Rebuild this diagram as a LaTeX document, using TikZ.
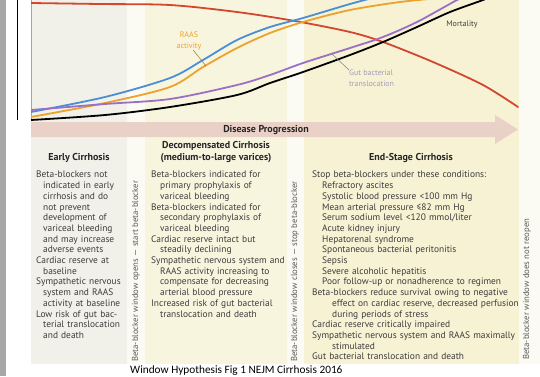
\documentclass[tikz,border=0pt]{standalone}
\usepackage{fontspec}
\setmainfont{PT Sans}
\newfontfamily\capfont{Carlito}

\definecolor{stripgray}{HTML}{A7A7A7}
\definecolor{earlybg}{HTML}{F1F0E9}
\definecolor{gapbg}{HTML}{FCFBF3}
\definecolor{decompbg}{HTML}{F8F5DF}
\definecolor{endbg}{HTML}{F7F2D4}
\definecolor{progressbg}{HTML}{EAD1C7}
\definecolor{cardiacred}{HTML}{D2472E}
\definecolor{sympblue}{HTML}{4A8ED6}
\definecolor{raasorange}{HTML}{EBA22F}
\definecolor{gutpurple}{HTML}{9A70C4}
\definecolor{gutlabel}{HTML}{A69CB8}
\definecolor{bodygray}{HTML}{3C3C3C}
\definecolor{notegray}{HTML}{5A5A5A}

% one list entry, later lines hang under the first
\newcommand{\notepara}[2][7pt]{\par\noindent\hangindent=#1\hangafter=1 {\let\\\newline #2}\par}
% one sub entry, indented as a whole
\newcommand{\subpara}[1]{\par\noindent\hspace*{10pt}#1\par}

\tikzset{
	colhead/.style={font=\bfseries\fontsize{10}{11.5}\selectfont, text=black!85, align=center, inner sep=0pt},
	coltext/.style={font=\fontsize{9.4}{10.7}\selectfont, text=bodygray, anchor=north west, inner sep=0pt},
	sidenote/.style={rotate=90, anchor=west, font=\fontsize{8.7}{10}\selectfont, text=notegray, inner sep=0pt},
	curve/.style={line width=1.8pt, line cap=round},
	curvelabel/.style={font=\fontsize{8}{10.5}\selectfont, inner sep=0pt},
	leader/.style={line width=0.5pt}
}

\begin{document}
\begin{tikzpicture}[x=1pt,y=-1pt]
		
		\useasboundingbox (0,0) rectangle (540,376);
		\fill[white] (0,0) rectangle (540,376);
		
		%Background panels
		\fill[stripgray] (0,0) rectangle (6,376);
		\fill[gapbg] (31,0) rectangle (540,364);
		\fill[earlybg] (31,0) rectangle (127,364);
		\fill[decompbg] (145,0) rectangle (287,364);
		\fill[endbg] (304,0) rectangle (519,364);
		
		%Axes
		\draw[black, line width=1pt] (17,0) -- (17,120);
		\draw[gray!70, line width=0.6pt] (31,0) -- (31,121);
		
		%Curves
		\begin{scope}
		\clip (31,0) rectangle (522,122);
		\draw[curve, cardiacred] plot[smooth] coordinates {(31,3) (100,4) (170,5) (237,12) (295,21) (350,32) (383,42) (433,62) (483,85) (518,107)};
		\draw[curve, raasorange] plot[smooth] coordinates {(31,117) (105,103) (170,87) (203,67) (237,48) (270,33) (303,22) (350,10) (400,2) (440,-2)};
		\draw[curve, sympblue] plot[smooth] coordinates {(31,112) (105,97) (170,78) (203,60) (237,40) (270,27) (303,18) (350,4) (380,-4)};
		\draw[curve, gutpurple] plot[smooth] coordinates {(31,110) (105,104) (170,99) (237,85) (270,75) (303,63) (350,48) (383,37) (417,22) (457,0) (470,-6)};
		\draw[curve, black] plot[smooth] coordinates {(31,120) (105,115) (170,107) (237,95) (270,83) (303,72) (350,55) (383,42) (417,27) (450,12) (483,0) (495,-5)};
		\end{scope}
		
		%Curve labels
		\node[curvelabel, text=raasorange, align=center] (raas) at (189,41) {RAAS\\activity};
		\coordinate (raaspt) at (206,66);
		\draw[leader, raasorange!70!black] (raas.-65) -- (raaspt);
		\node[curvelabel, text=gutlabel, align=left, anchor=north west] (gut) at (349,70) {Gut bacterial\\translocation};
		\coordinate (gutpt) at (332,54);
		\draw[leader, gray] (gutpt) -- (gut.north west);
		\node[curvelabel, text=black!75] (mortality) at (462,24) {Mortality};
		
		%Disease progression arrow
		\fill[progressbg] (31,122) -- (495,122) -- (495,115) -- (518,129.5) -- (495,144) -- (495,137) -- (31,137) -- cycle;
		\node[font=\bfseries\fontsize{10}{11}\selectfont, text=black!85] (progress) at (266,129.5) {Disease Progression};
		
		%Column heads
		\node[colhead] (earlyhead) at (79,158) {Early Cirrhosis};
		\node[colhead] (decomphead) at (216,152) {Decompensated Cirrhosis\\(medium-to-large varices)};
		\node[colhead] (endhead) at (411,158) {End-Stage Cirrhosis};
		
		%Column texts
		\node[coltext, text width=100pt] (earlytext) at (36,167) {%
			\notepara{Beta-blockers not\\indicated in early\\cirrhosis and do\\not prevent\\development of\\variceal bleeding\\and may increase\\adverse events}
			\notepara{Cardiac reserve at\\baseline}
			\notepara{Sympathetic nervous\\system and RAAS\\activity at baseline}
			\notepara{Low risk of gut bac-\\terial translocation\\and death}};
		\node[coltext, text width=145pt] (decomptext) at (151,167) {%
			\notepara[9pt]{Beta-blockers indicated for\\primary prophylaxis of\\variceal bleeding}
			\notepara[9pt]{Beta-blockers indicated for\\secondary prophylaxis of\\variceal bleeding}
			\notepara[9pt]{Cardiac reserve intact but\\steadily declining}
			\notepara[9pt]{Sympathetic nervous system and\\RAAS activity increasing to\\compensate for decreasing\\arterial blood pressure}
			\notepara[9pt]{Increased risk of gut bacterial\\translocation and death}};
		\node[coltext, text width=215pt] (endtext) at (312,167) {%
			\notepara{Stop beta-blockers under these conditions:}
			\subpara{Refractory ascites}
			\subpara{Systolic blood pressure <100 mm Hg}
			\subpara{Mean arterial pressure ≤82 mm Hg}
			\subpara{Serum sodium level <120 mmol/liter}
			\subpara{Acute kidney injury}
			\subpara{Hepatorenal syndrome}
			\subpara{Spontaneous bacterial peritonitis}
			\subpara{Sepsis}
			\subpara{Severe alcoholic hepatitis}
			\subpara{Poor follow-up or nonadherence to regimen}
			\notepara[20pt]{Beta-blockers reduce survival owing to negative\\effect on cardiac reserve, decreased perfusion\\during periods of stress}
			\notepara{Cardiac reserve critically impaired}
			\notepara[20pt]{Sympathetic nervous system and RAAS maximally\\stimulated}
			\notepara{Gut bacterial translocation and death}};
		
		%Window notes
		\node[sidenote] (opens) at (136,362) {Beta-blocker window opens --- start beta-blocker};
		\node[sidenote] (closes) at (295,362) {Beta-blocker window closes --- stop beta-blocker};
		\node[sidenote] (reopen) at (527,360) {Beta-blocker window does not reopen};
		
		\node[font=\capfont\fontsize{11.3}{13}\selectfont, anchor=base west, inner sep=0pt] (caption) at (130,373) {Window Hypothesis Fig 1 NEJM Cirrhosis 2016};
		
\end{tikzpicture}
\end{document}
